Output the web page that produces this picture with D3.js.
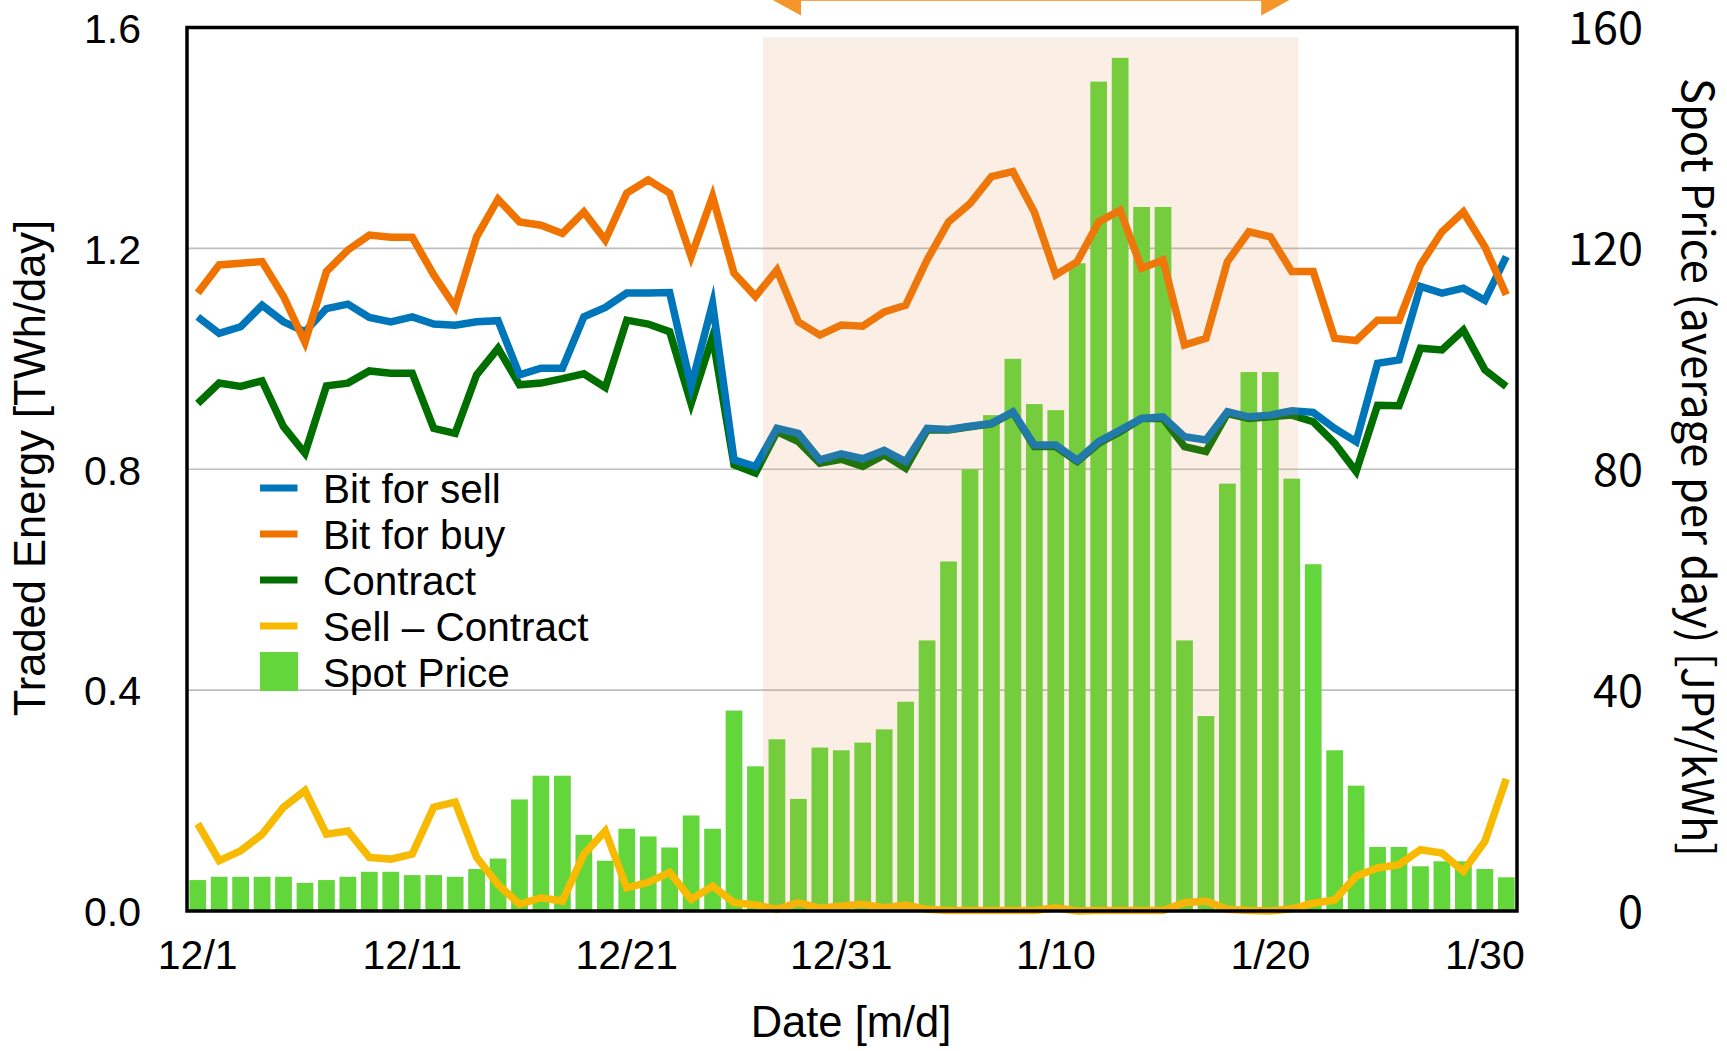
<!DOCTYPE html>
<html>
<head>
<meta charset="utf-8">
<script src="https://cdn.jsdelivr.net/npm/d3@7"></script>
<style>
  html, body { margin: 0; padding: 0; background: #fff; }
  svg { display: block; }
</style>
</head>
<body>
<svg id="chart" width="1727" height="1051"></svg>
<script>
// ---------- DATA ----------
const dates = [
  "12/1","12/2","12/3","12/4","12/5","12/6","12/7","12/8","12/9","12/10",
  "12/11","12/12","12/13","12/14","12/15","12/16","12/17","12/18","12/19","12/20",
  "12/21","12/22","12/23","12/24","12/25","12/26","12/27","12/28","12/29","12/30","12/31",
  "1/1","1/2","1/3","1/4","1/5","1/6","1/7","1/8","1/9","1/10",
  "1/11","1/12","1/13","1/14","1/15","1/16","1/17","1/18","1/19","1/20",
  "1/21","1/22","1/23","1/24","1/25","1/26","1/27","1/28","1/29","1/30","1/31"
];
const tickDates = ["12/1","12/11","12/21","12/31","1/10","1/20","1/30"];
const leftTicks = [0, 0.4, 0.8, 1.2, 1.6];
const rightTicks = [0, 40, 80, 120, 160];

const bitForSell = [
  1.076,1.046,1.058,1.097,1.067,1.049,1.091,1.099,1.075,1.067,
  1.076,1.063,1.061,1.067,1.069,0.971,0.983,0.983,1.076,1.093,
  1.119,1.119,1.120,0.950,1.100,0.817,0.805,0.874,0.865,0.817,0.828,
  0.819,0.834,0.814,0.874,0.872,0.878,0.883,0.904,0.844,0.844,
  0.816,0.850,0.871,0.892,0.895,0.859,0.853,0.904,0.895,0.898,
  0.906,0.903,0.874,0.850,0.992,0.998,1.131,1.119,1.128,1.106,1.185
];
const bitForBuy = [
  1.119,1.170,1.173,1.176,1.113,1.030,1.158,1.197,1.224,1.220,
  1.220,1.152,1.094,1.221,1.289,1.248,1.242,1.227,1.266,1.215,
  1.300,1.324,1.300,1.185,1.294,1.155,1.113,1.161,1.067,1.043,1.061,
  1.059,1.085,1.097,1.179,1.248,1.281,1.330,1.339,1.266,1.152,
  1.176,1.248,1.269,1.164,1.179,1.025,1.037,1.176,1.230,1.221,
  1.158,1.158,1.037,1.033,1.070,1.070,1.170,1.230,1.266,1.203,1.116
];
const contract = [
  0.919,0.956,0.950,0.960,0.877,0.829,0.951,0.956,0.978,0.974,
  0.974,0.874,0.865,0.971,1.019,0.953,0.956,0.964,0.973,0.948,
  1.070,1.063,1.049,0.919,1.040,0.808,0.793,0.868,0.850,0.811,0.818,
  0.805,0.826,0.802,0.871,0.871,0.877,0.882,0.903,0.841,0.841,
  0.814,0.847,0.868,0.892,0.892,0.841,0.832,0.901,0.892,0.895,
  0.898,0.886,0.847,0.796,0.916,0.915,1.019,1.016,1.052,0.980,0.950
];
const sellMinusContract = [
  0.158,0.091,0.109,0.139,0.188,0.218,0.139,0.145,0.097,0.094,
  0.103,0.188,0.197,0.097,0.048,0.012,0.024,0.018,0.103,0.145,
  0.042,0.052,0.070,0.021,0.045,0.015,0.011,0.003,0.015,0.005,0.009,
  0.012,0.006,0.011,0.003,0.001,0.001,0.001,0.001,0.001,0.006,
  0.000,0.001,0.001,0.001,0.001,0.015,0.018,0.003,0.001,0.000,
  0.004,0.014,0.020,0.063,0.078,0.084,0.111,0.105,0.072,0.126,0.239
];
const spotPrice = [
  5.6,6.2,6.2,6.2,6.2,5.1,5.6,6.2,7.1,7.1,
  6.5,6.5,6.2,7.6,9.5,20.2,24.5,24.5,13.8,9.1,
  14.9,13.5,11.5,17.3,14.9,36.3,26.2,31.1,20.3,29.6,29.1,
  30.5,32.9,37.9,49.0,63.3,80.0,89.8,100.0,91.8,90.7,
  117.3,150.2,154.5,127.5,127.5,49.0,35.3,77.4,97.6,97.6,
  78.3,62.8,29.1,22.7,11.6,11.6,8.1,9.0,9.0,7.6,6.1
];
// highlighted period (in day-index units, 0 = 12/1)
const shadeRange = [26.35, 51.3];

const lineSeries = [
  { name: "Sell \u2013 Contract", values: sellMinusContract, color: "#F8BA00" },
  { name: "Contract",            values: contract,          color: "#006F00" },
  { name: "Bit for sell",        values: bitForSell,        color: "#0076BA" },
  { name: "Bit for buy",         values: bitForBuy,         color: "#F07300" }
];
const legendItems = [
  { name: "Bit for sell",        color: "#0076BA", type: "line" },
  { name: "Bit for buy",         color: "#F07300", type: "line" },
  { name: "Contract",            color: "#006F00", type: "line" },
  { name: "Sell \u2013 Contract", color: "#F8BA00", type: "line" },
  { name: "Spot Price",          color: "#62D63A", type: "rect" }
];

// ---------- LAYOUT ----------
const plot = { left: 187, right: 1517, top: 27.5, bottom: 911 };
const svg = d3.select("#chart");
const LFONT = "'Liberation Sans', Arial, Helvetica, sans-serif";
const RFONT = "'Noto Sans CJK JP', 'Noto Sans', sans-serif";

const xBand = d3.scaleBand().domain(dates).range([plot.left, plot.right])
  .paddingInner(0.22).paddingOuter(0.11);
const xc = d => xBand(d) + xBand.bandwidth() / 2;
const xIdx = d3.scaleLinear().domain([-0.5, dates.length - 0.5]).range([plot.left, plot.right]);
const yL = d3.scaleLinear().domain([0, 1.6]).range([plot.bottom, plot.top]);
const yR = d3.scaleLinear().domain([0, 160]).range([plot.bottom, plot.top]);

// grid lines
svg.append("g").selectAll("line").data([0.4, 0.8, 1.2]).join("line")
  .attr("x1", plot.left).attr("x2", plot.right)
  .attr("y1", d => yL(d)).attr("y2", d => yL(d))
  .attr("stroke", "#BEBEBE").attr("stroke-width", 1.6);

// bars
svg.append("g").selectAll("rect").data(spotPrice).join("rect")
  .attr("x", (d, i) => xBand(dates[i]))
  .attr("width", xBand.bandwidth())
  .attr("y", d => yR(d))
  .attr("height", d => plot.bottom - yR(d))
  .attr("fill", "#62D63A");

// lines
const lineGen = d3.line().x((d, i) => xc(dates[i])).y(d => yL(d));
svg.append("g").selectAll("path").data(lineSeries).join("path")
  .attr("d", s => lineGen(s.values))
  .attr("fill", "none")
  .attr("stroke", s => s.color)
  .attr("stroke-width", 7.5)
  .attr("stroke-linejoin", "miter")
  .attr("stroke-miterlimit", 10);

// shaded period (overlay)
svg.append("rect")
  .attr("x", xIdx(shadeRange[0]))
  .attr("width", xIdx(shadeRange[1]) - xIdx(shadeRange[0]))
  .attr("y", 37).attr("height", plot.bottom - 37)
  .attr("fill", "#E6964F").attr("opacity", 0.15);

// arrow above
const ax0 = xIdx(shadeRange[0]) + 7, ax1 = xIdx(shadeRange[1]) - 6, ay = -1.5;
const arrowG = svg.append("g");
arrowG.append("line").attr("x1", ax0 + 20).attr("x2", ax1 - 20)
  .attr("y1", ay).attr("y2", ay).attr("stroke", "#F7A347").attr("stroke-width", 5);
arrowG.append("path")
  .attr("d", `M${ax0},${ay} L${ax0 + 31},${ay - 17} L${ax0 + 31},${ay + 17} Z`)
  .attr("fill", "#F5962A");
arrowG.append("path")
  .attr("d", `M${ax1},${ay} L${ax1 - 31},${ay - 17} L${ax1 - 31},${ay + 17} Z`)
  .attr("fill", "#F5962A");

// frame
svg.append("rect")
  .attr("x", plot.left).attr("y", plot.top)
  .attr("width", plot.right - plot.left).attr("height", plot.bottom - plot.top)
  .attr("fill", "none").attr("stroke", "#000").attr("stroke-width", 3.5);

// axes
const xAxis = svg.append("g").attr("transform", `translate(0,${plot.bottom})`)
  .call(d3.axisBottom(xBand).tickValues(tickDates).tickSize(0));
xAxis.select(".domain").remove();
xAxis.selectAll("text").attr("y", 58).attr("dy", 0)
  .attr("font-family", LFONT).attr("font-size", 41).attr("fill", "#000");

const yAxisL = svg.append("g").attr("transform", `translate(${plot.left},0)`)
  .call(d3.axisLeft(yL).tickValues(leftTicks).tickFormat(d3.format(".1f")).tickSize(0).tickPadding(46));
yAxisL.select(".domain").remove();
yAxisL.selectAll("text").attr("dy", "0.36em")
  .attr("font-family", LFONT).attr("font-size", 41).attr("fill", "#000");

const yAxisR = svg.append("g").attr("transform", `translate(${plot.right},0)`)
  .call(d3.axisRight(yR).tickValues(rightTicks).tickSize(0));
yAxisR.select(".domain").remove();
yAxisR.selectAll("text").attr("x", 126).attr("dy", "0.36em")
  .attr("text-anchor", "end")
  .attr("font-family", RFONT).attr("font-size", 45).attr("fill", "#000");

// axis titles
svg.append("text").attr("transform", "translate(45,468) rotate(-90)")
  .attr("text-anchor", "middle").attr("font-family", LFONT).attr("font-size", 43.5)
  .attr("fill", "#000").text("Traded Energy [TWh/day]");
svg.append("text").attr("transform", "translate(851,1037)")
  .attr("text-anchor", "middle").attr("font-family", LFONT).attr("font-size", 43.5)
  .attr("fill", "#000").text("Date [m/d]");
svg.append("text").attr("transform", "translate(1682,467.5) rotate(90)")
  .attr("text-anchor", "middle").attr("font-family", RFONT)
  .attr("font-size", 44).attr("fill", "#000")
  .attr("textLength", 779).attr("lengthAdjust", "spacingAndGlyphs")
  .text("Spot Price (average per day) [JPY/kWh]");

// legend
const lg = svg.append("g").attr("transform", "translate(260,488)");
const rows = lg.selectAll("g").data(legendItems).join("g")
  .attr("transform", (d, i) => `translate(0,${i * 46})`);
rows.filter(d => d.type === "line").append("line")
  .attr("x1", 0).attr("x2", 37.5).attr("y1", 0).attr("y2", 0)
  .attr("stroke", d => d.color).attr("stroke-width", 7);
rows.filter(d => d.type === "rect").append("rect")
  .attr("x", 0).attr("y", -20).attr("width", 38).attr("height", 39)
  .attr("fill", d => d.color);
rows.append("text").attr("x", 63).attr("y", 15)
  .attr("font-family", LFONT).attr("font-size", 40.5).attr("fill", "#000")
  .text(d => d.name);
</script>
</body>
</html>
